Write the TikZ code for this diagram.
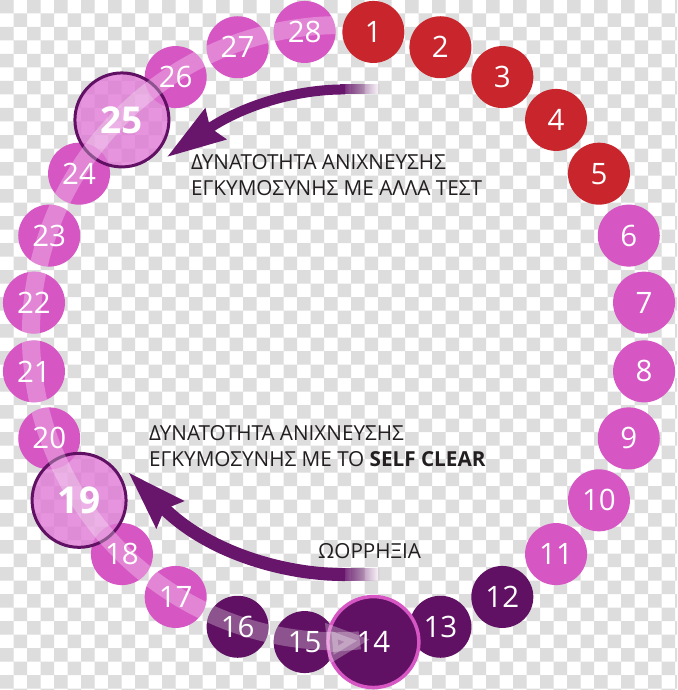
\documentclass[tikz,border=0pt]{standalone}
\usepackage{fontspec}
\setmainfont{Open Sans}
\usetikzlibrary{arrows.meta,fadings}
\definecolor{dayred}{RGB}{200,38,44}
\definecolor{daypink}{RGB}{214,86,196}
\definecolor{daydark}{RGB}{96,17,99}
\definecolor{arrowc}{RGB}{104,22,108}
\definecolor{bigpink}{RGB}{222,118,212}
\definecolor{txtc}{RGB}{35,31,32}
\definecolor{checker}{RGB}{221,221,221}
\tikzfading[name=fadeout right, left color=transparent!0, right color=transparent!100]
\tikzset{
  day/.style={circle, minimum size=62pt, inner sep=0pt, text=white,
    font=\fontsize{29.5}{29.5}\selectfont},
  dred/.style={day, fill=dayred},
  dpink/.style={day, fill=daypink},
  ddark/.style={day, fill=daydark},
  bigday/.style={circle, minimum size=94pt, inner sep=0pt, text=white,
    font=\bfseries\fontsize{37}{37}\selectfont, draw=daydark, line width=3pt,
    fill=bigpink, fill opacity=0.78, text opacity=1},
  ovday/.style={circle, minimum size=91pt, inner sep=0pt, text=white,
    font=\fontsize{29.5}{29.5}\selectfont, draw=daypink, line width=3.5pt, fill=daydark},
  lbl/.style={inner sep=0pt, text=txtc, font=\fontsize{20.7}{20.7}\selectfont},
  bigarrow/.style={draw=arrowc, -{Stealth[length=58pt,width=36pt,inset=6pt]}},
  stripe/.style={draw=white, opacity=0.28, line width=18pt,
    -{Triangle[length=44pt,width=38pt]}}
}
\begin{document}
\begin{tikzpicture}[x=1pt,y=-1pt]
\useasboundingbox (0,0) rectangle (677,690);
% background checker
\begin{scope}
\clip (0,0) rectangle (677,690);
\fill[white] (0,0) rectangle (677,690);
\fill[checker]
  \foreach \j in {0,2,...,50} { \foreach \i in {0,2,...,50} { ({\i*13.5},{\j*13.5}) rectangle ++(13.5,13.5) } }
  \foreach \j in {1,3,...,51} { \foreach \i in {1,3,...,51} { ({\i*13.5},{\j*13.5}) rectangle ++(13.5,13.5) } };
\end{scope}
% positions
\foreach \k in {1,...,28}{
  \pgfmathsetmacro\ang{83.57-(\k-1)*12.857}
  \coordinate (p\k) at ({339+307*cos(\ang)},{337-307*sin(\ang)});
}
% day circles
\foreach \k in {1,2,3,4,5} { \node[dred] (d\k) at (p\k) {\k}; }
\foreach \k in {6,7,8,9,10,11,17,18,20,21,22,23,24,26,27,28} { \node[dpink] (d\k) at (p\k) {\k}; }
\foreach \k in {12,13,15,16} { \node[ddark] (d\k) at (p\k) {\k}; }
\node[bigday] (d25) at (p25) {25};
\node[bigday] (d19) at (p19) {19};
\node[ovday] (d14) at (p14) {14};
% translucent highlight stripe, clipped to the circles
\begin{scope}
\clip \foreach \k in {6,7,8,9,10,11,12,13,15,16,17,18,20,21,22,23,24,26,27,28} { (d\k.center) circle[radius=31pt] }
  (d25.center) circle[radius=48pt] (d19.center) circle[radius=48pt] (d14.center) circle[radius=47pt];
\draw[stripe] plot[smooth, domain=90:276, samples=60]
  ({339+(312-(\x-90)/186*8)*cos(\x)},{337-(312-(\x-90)/186*8)*sin(\x)});
\end{scope}
% arrows
\coordinate (a1s) at (345,89.5);
\coordinate (a1t) at (167,157);
\coordinate (a2s) at (345,574.5);
\coordinate (a2t) at (128,472);
\draw[bigarrow, line width=10pt] (a1s) .. controls (300,89) and (245,104) .. (a1t);
\fill[arrowc, path fading=fadeout right] (340,84.5) rectangle (380,94.5);
\draw[bigarrow, line width=13pt] (a2s) .. controls (290,575) and (210,555) .. (a2t);
\fill[arrowc, path fading=fadeout right] (340,568) rectangle (380,581);
% labels
\node[lbl, anchor=base west] (t1) at (191,169.3) {ΔΥΝΑΤΟΤΗΤΑ ΑΝΙΧΝΕΥΣΗΣ};
\node[lbl, anchor=base west] (t2) at (191,195) {ΕΓΚΥΜΟΣΥΝΗΣ ΜΕ ΑΛΛΑ ΤΕΣΤ};
\node[lbl, anchor=base west] (t3) at (149,440) {ΔΥΝΑΤΟΤΗΤΑ ΑΝΙΧΝΕΥΣΗΣ};
\node[lbl, anchor=base west] (t4) at (149,466.7) {ΕΓΚΥΜΟΣΥΝΗΣ ΜΕ ΤΟ \textbf{SELF CLEAR}};
\node[lbl, anchor=base west] (t5) at (318,558) {ΩΟΡΡΗΞΙΑ};
\end{tikzpicture}
\end{document}
